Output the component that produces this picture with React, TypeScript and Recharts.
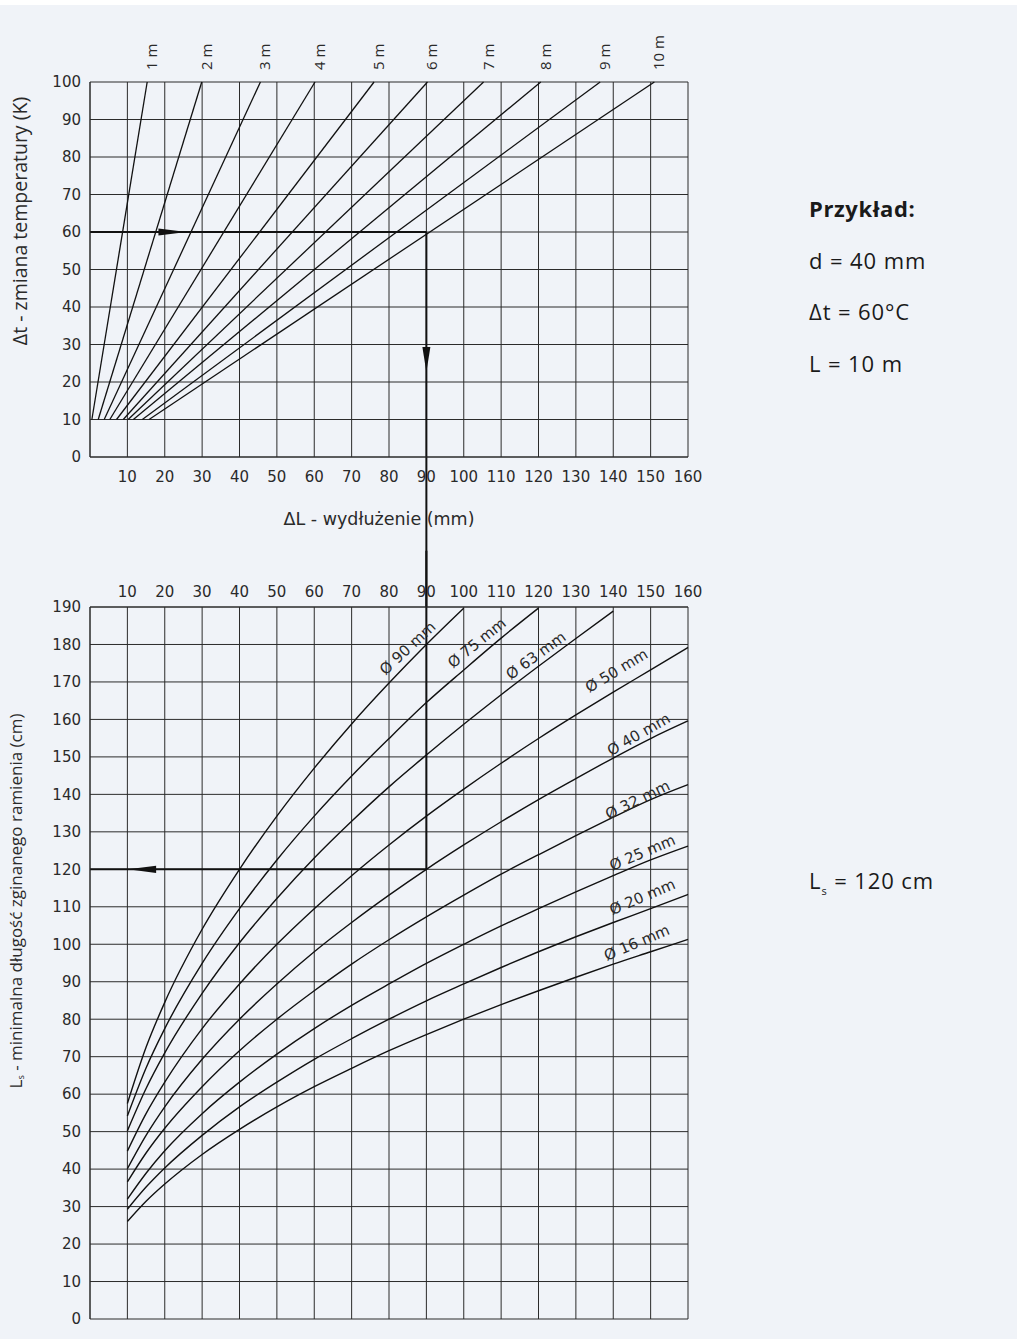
import React from 'react'
import { LineChart, Line, XAxis, YAxis, CartesianGrid, ReferenceLine, ReferenceDot } from 'recharts'

const BG = '#f0f3f8'
const INK = '#111'
const GRID = '#2b2b2b'
const TICK_FONT = '"DejaVu Sans", sans-serif'
const TEXT_FONT = '"Open Sans", sans-serif'

// górny wykres: wydłużenie ΔL (mm) dla długości rury L, od Δt = 10 K do 100 K
const pipeLengths = [1, 2, 3, 4, 5, 6, 7, 8, 9, 10]
const dlAt10K = [0.5, 2.2, 3.8, 5.3, 7.1, 8.9, 10.2, 11.6, 14.0, 15.8]
const dlAt100K = [15.3, 29.9, 45.6, 60.2, 76.0, 90.3, 105.3, 120.6, 136.5, 151.0]

const dtTicks = [0, 10, 20, 30, 40, 50, 60, 70, 80, 90, 100]
const dlTicks = [10, 20, 30, 40, 50, 60, 70, 80, 90, 100, 110, 120, 130, 140, 150, 160]
const lsTicks = [0, 10, 20, 30, 40, 50, 60, 70, 80, 90, 100, 110, 120, 130, 140, 150, 160, 170, 180, 190]

// dolny wykres: minimalna długość ramienia Ls (cm) wg średnicy rury
const dlSteps = [10, 15, 20, 30, 40, 50, 60, 70, 80, 90, 100, 110, 120, 130, 140, 150, 160]
const diameters = [90, 75, 63, 50, 40, 32, 25, 20, 16]
const ls90 = [57.5, 72.5, 84.5, 104, 120, 134.2, 147, 158.8, 169.7, 180, 189.7]
const ls75 = [54.2, 67, 77.5, 94.9, 109.5, 122.5, 134.2, 144.9, 154.9, 164.5, 173.2, 181.7, 189.7]
const ls63 = [50.2, 61.5, 71, 86.9, 100.4, 112.2, 123, 132.8, 142, 150.5, 158.7, 166.6, 174.2, 181.6, 188.9]
const ls50 = [44.8, 54.8, 63.2, 77.5, 89.4, 100, 109.5, 118.3, 126.5, 134.2, 141.4, 148.3, 154.9, 161.2, 167.3, 173.2, 179.2]
const ls40 = [40.1, 49, 56.6, 69.3, 80, 89.4, 98, 105.8, 113.1, 120, 126.5, 132.7, 138.6, 144.2, 149.7, 154.9, 159.6]
const ls32 = [36.6, 44.3, 50.9, 62, 71.6, 80, 87.6, 94.7, 101.2, 107.3, 113.1, 118.7, 123.9, 129, 133.9, 138.6, 142.6]
const ls25 = [32, 38.9, 44.9, 54.8, 63.2, 70.7, 77.5, 83.7, 89.4, 94.9, 100, 104.9, 109.5, 114, 118.3, 122.5, 126.2]
const ls20 = [29.3, 35.2, 40.3, 49, 56.6, 63.2, 69.3, 74.8, 80, 84.9, 89.4, 93.8, 98, 102, 105.8, 109.5, 113.3]
const ls16 = [26, 31.4, 36, 43.9, 50.6, 56.6, 62, 66.9, 71.6, 75.9, 80, 83.9, 87.6, 91.2, 94.7, 98, 101.3]
const lsSeries = [ls90, ls75, ls63, ls50, ls40, ls32, ls25, ls20, ls16]

// opisy krzywych (środek napisu w jednostkach wykresu, kąt)
const diameterLabels = [
  { d: 90, x: 85, y: 179, angle: -43 },
  { d: 75, x: 103.5, y: 180.4, angle: -39 },
  { d: 63, x: 119.3, y: 177, angle: -36 },
  { d: 50, x: 140.9, y: 173, angle: -31 },
  { d: 40, x: 146.8, y: 156, angle: -30 },
  { d: 32, x: 146.5, y: 138.5, angle: -26 },
  { d: 25, x: 147.8, y: 124.4, angle: -23 },
  { d: 20, x: 147.8, y: 112.6, angle: -23 },
  { d: 16, x: 146.3, y: 100.4, angle: -23 },
]

// przykład: Δt = 60, ΔL = 90, Ls = 120
const exDt = 60
const exDl = 90
const exLs = 120

const tick = { fill: '#2a2a2a', fontSize: 15, fontFamily: TICK_FONT }

const arrowRight = (p: any) => (
  <polygon points={`${p.cx},${p.cy} ${p.cx - 28},${p.cy - 3.6} ${p.cx - 28},${p.cy + 3.6}`} fill={INK} />
)
const arrowDown = (p: any) => (
  <polygon points={`${p.cx},${p.cy} ${p.cx - 4},${p.cy - 25} ${p.cx + 4},${p.cy - 25}`} fill={INK} />
)
const arrowLeft = (p: any) => (
  <polygon points={`${p.cx},${p.cy} ${p.cx + 28},${p.cy - 3.6} ${p.cx + 28},${p.cy + 3.6}`} fill={INK} />
)

function TopChart() {
  return (
    <LineChart width={720} height={620} margin={{ top: 82, right: 32, bottom: 133, left: 40 }}>
      <CartesianGrid stroke={GRID} strokeWidth={1} />
      <XAxis
        type="number"
        dataKey="x"
        domain={[0, 160]}
        ticks={dlTicks}
        interval={0}
        tickLine={false}
        tickMargin={8}
        axisLine={{ stroke: GRID }}
        tick={tick}
        height={30}
        allowDuplicatedCategory={false}
        label={(p: any) => (
          <text
            x={p.viewBox.x + 289}
            y={p.viewBox.y + 68}
            textAnchor="middle"
            fill="#2a2a2a"
            fontSize={17.5}
            fontFamily={TICK_FONT}
          >
            ΔL - wydłużenie (mm)
          </text>
        )}
      />
      <YAxis
        type="number"
        domain={[0, 100]}
        ticks={dtTicks}
        interval={0}
        tickLine={false}
        tickMargin={3}
        axisLine={{ stroke: GRID }}
        tick={tick}
        width={50}
        label={(p: any) => {
          const cx = 19
          const cy = p.viewBox.y + 139
          return (
            <text
              x={cx}
              y={cy}
              transform={`rotate(-90 ${cx} ${cy})`}
              textAnchor="middle"
              dominantBaseline="central"
              fill="#2a2a2a"
              fontSize={19.5}
              fontFamily={TEXT_FONT}
            >
              Δt - zmiana temperatury (K)
            </text>
          )
        }}
      />
      {pipeLengths.map((len, i) => (
        <Line
          key={len}
          data={[
            { x: dlAt10K[i], y: 10 },
            { x: dlAt100K[i], y: 100 },
          ]}
          dataKey="y"
          type="linear"
          stroke={INK}
          strokeWidth={1.3}
          dot={false}
          activeDot={false}
          isAnimationActive={false}
        />
      ))}
      {pipeLengths.map((len, i) => (
        <ReferenceDot
          key={'l' + len}
          x={dlAt100K[i]}
          y={100}
          shape={(p: any) => {
            const tx = p.cx + 4
            const ty = p.cy - 12
            return (
              <text
                x={tx}
                y={ty}
                transform={`rotate(-90 ${tx} ${ty})`}
                dominantBaseline="central"
                fill="#2a2a2a"
                fontSize={15}
                fontFamily={TEXT_FONT}
              >
                {len} m
              </text>
            )
          }}
        />
      ))}
      <ReferenceLine
        segment={[
          { x: 0, y: exDt },
          { x: exDl, y: exDt },
        ]}
        stroke={INK}
        strokeWidth={2}
        ifOverflow="visible"
      />
      <ReferenceLine
        segment={[
          { x: exDl, y: exDt },
          { x: exDl, y: -40 },
        ]}
        stroke={INK}
        strokeWidth={2}
        ifOverflow="visible"
      />
      <ReferenceDot x={25.8} y={exDt} shape={arrowRight} />
      <ReferenceDot x={exDl} y={22.7} shape={arrowDown} />
    </LineChart>
  )
}

function BottomChart() {
  return (
    <LineChart width={720} height={799} margin={{ top: 37, right: 32, bottom: 20, left: 40 }}>
      <CartesianGrid stroke={GRID} strokeWidth={1} />
      <XAxis
        type="number"
        dataKey="x"
        orientation="top"
        domain={[0, 160]}
        ticks={dlTicks}
        interval={0}
        tickLine={false}
        tickMargin={4}
        axisLine={{ stroke: GRID }}
        tick={tick}
        height={30}
        allowDuplicatedCategory={false}
      />
      <YAxis
        type="number"
        domain={[0, 190]}
        ticks={lsTicks}
        interval={0}
        tickLine={false}
        tickMargin={3}
        axisLine={{ stroke: GRID }}
        tick={tick}
        width={50}
        label={(p: any) => {
          const cx = 15
          const cy = p.viewBox.y + p.viewBox.height / 2 - 62
          return (
            <text
              x={cx}
              y={cy}
              transform={`rotate(-90 ${cx} ${cy})`}
              textAnchor="middle"
              dominantBaseline="central"
              fill="#2a2a2a"
              fontSize={17}
              fontFamily={TEXT_FONT}
            >
              L
              <tspan fontSize={9} dy={5}>
                s
              </tspan>
              <tspan dy={-5}> - minimalna długość zginanego ramienia (cm)</tspan>
            </text>
          )
        }}
      />
      {lsSeries.map((ls, i) => (
        <Line
          key={diameters[i]}
          data={ls.map((v, j) => ({ x: dlSteps[j], y: v }))}
          dataKey="y"
          type="monotone"
          stroke={INK}
          strokeWidth={1.4}
          dot={false}
          activeDot={false}
          isAnimationActive={false}
        />
      ))}
      {diameterLabels.map((lb) => (
        <ReferenceDot
          key={'d' + lb.d}
          x={lb.x}
          y={lb.y}
          shape={(p: any) => (
            <text
              x={p.cx}
              y={p.cy}
              transform={`rotate(${lb.angle} ${p.cx} ${p.cy})`}
              textAnchor="middle"
              dominantBaseline="central"
              fill="#2a2a2a"
              fontSize={15}
              fontFamily={TICK_FONT}
            >
              Ø {lb.d} mm
            </text>
          )}
        />
      ))}
      <ReferenceLine
        segment={[
          { x: exDl, y: 205 },
          { x: exDl, y: exLs },
        ]}
        stroke={INK}
        strokeWidth={2}
        ifOverflow="visible"
      />
      <ReferenceLine
        segment={[
          { x: exDl, y: exLs },
          { x: 0, y: exLs },
        ]}
        stroke={INK}
        strokeWidth={2}
        ifOverflow="visible"
      />
      <ReferenceDot x={10.2} y={exLs} shape={arrowLeft} />
    </LineChart>
  )
}

function Notes() {
  const t = { fill: '#1a1a1a', fontFamily: TEXT_FONT, fontSize: 22, letterSpacing: 0.9 }
  return (
    <svg width={1017} height={1339} style={{ position: 'absolute', left: 0, top: 0, pointerEvents: 'none' }}>
      <text x={809} y={217} {...t} fontWeight={700} letterSpacing={0.6}>
        Przykład:
      </text>
      <text x={809} y={269} {...t}>
        d = 40 mm
      </text>
      <text x={809} y={320} {...t}>
        Δt = 60°C
      </text>
      <text x={809} y={372} {...t}>
        L = 10 m
      </text>
      <text x={809} y={889} {...t}>
        L
        <tspan fontSize={11} dy={6}>
          s
        </tspan>
        <tspan dy={-6}> = 120 cm</tspan>
      </text>
    </svg>
  )
}

export default function App() {
  return (
    <div style={{ position: 'absolute', left: 0, top: 0, width: 1017, height: 1339, background: BG, overflow: 'hidden' }}>
      <style>{'.recharts-surface{overflow:visible}'}</style>
      <div style={{ position: 'absolute', left: 0, top: 0, width: 1017, height: 5, background: '#fff' }} />
      <div style={{ position: 'absolute', left: 0, top: 0 }}>
        <TopChart />
      </div>
      <div style={{ position: 'absolute', left: 0, top: 540 }}>
        <BottomChart />
      </div>
      <Notes />
    </div>
  )
}
